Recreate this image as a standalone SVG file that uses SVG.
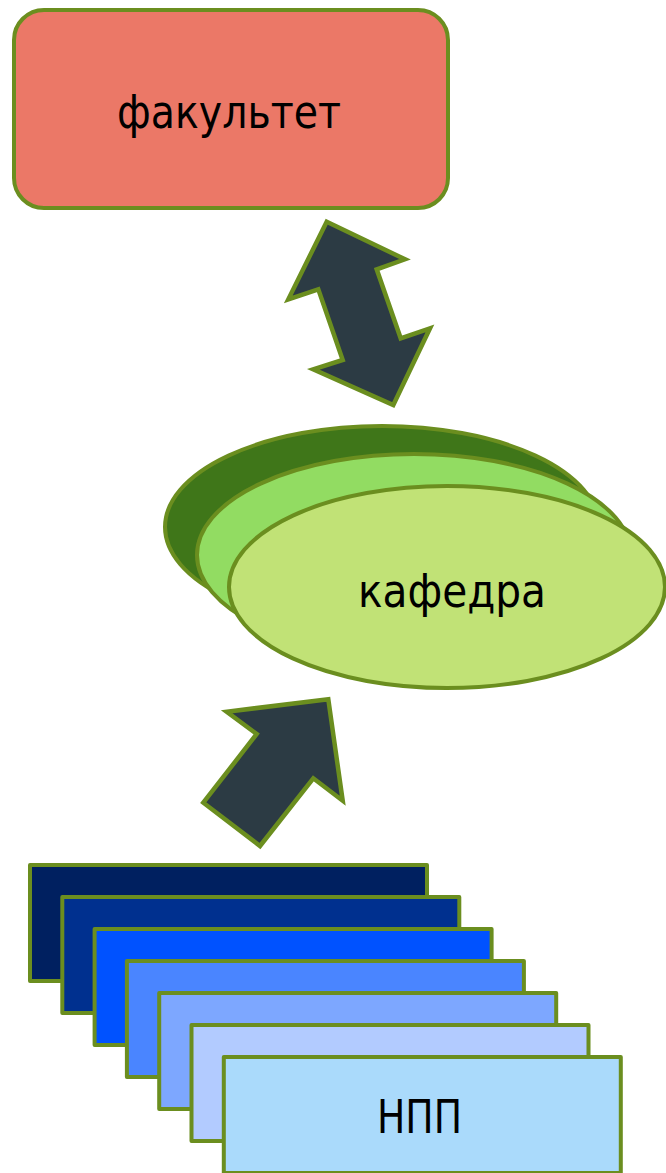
<svg xmlns="http://www.w3.org/2000/svg" width="666" height="1173" viewBox="0 0 666 1173">
<style>
.s{stroke:#6b8e1f;stroke-width:4;stroke-linejoin:round}
.arr{fill:#2c3b44;stroke:#6b8e1f;stroke-width:4.5;stroke-linejoin:miter}
.t{font-family:"DejaVu Sans","Liberation Sans",sans-serif;font-size:46px;fill:#000;text-anchor:middle}
</style>
<rect width="666" height="1173" fill="#fff"/>
<g id="connectors">
<polygon class="arr" points="326.7,221.7 405,259.3 376.7,269.3 400.7,338.3 430,328.3 393.3,405 313.3,369.3 342.7,360 318.3,289.3 288.3,299.3"/>
<polygon class="arr" points="328.3,699.3 342.7,800.7 313.3,778.3 260,846 203.3,802.7 256.7,734 226.7,711.7"/>
</g>
<g id="node-fakultet">
<rect class="s" x="14" y="10" width="434" height="198" rx="30" ry="30" fill="#eb7867"/>
<text class="t" x="229" y="128" textLength="224" lengthAdjust="spacingAndGlyphs">факультет</text>
</g>
<g id="node-kafedra">
<ellipse class="s" cx="382" cy="527" rx="217" ry="101" fill="#3f7619"/>
<ellipse class="s" cx="414" cy="555" rx="217" ry="101" fill="#92dc62"/>
<ellipse class="s" cx="447" cy="587" rx="218" ry="101" fill="#c1e276"/>
<text class="t" x="452" y="607" textLength="188" lengthAdjust="spacingAndGlyphs">кафедра</text>
</g>
<g id="node-npp">
<rect class="s" x="30" y="865" width="397" height="116" fill="#002060"/>
<rect class="s" x="62.3" y="897" width="397" height="116" fill="#00308f"/>
<rect class="s" x="94.6" y="929" width="397" height="116" fill="#0052ff"/>
<rect class="s" x="126.9" y="961" width="397" height="116" fill="#4a85ff"/>
<rect class="s" x="159.2" y="993" width="397" height="116" fill="#7da7ff"/>
<rect class="s" x="191.5" y="1025" width="397" height="116" fill="#b2cbff"/>
<rect class="s" x="223.8" y="1057" width="397" height="116" fill="#aadafb"/>
<text class="t" x="419.5" y="1133" textLength="85" lengthAdjust="spacingAndGlyphs">НПП</text>
</g>
</svg>
